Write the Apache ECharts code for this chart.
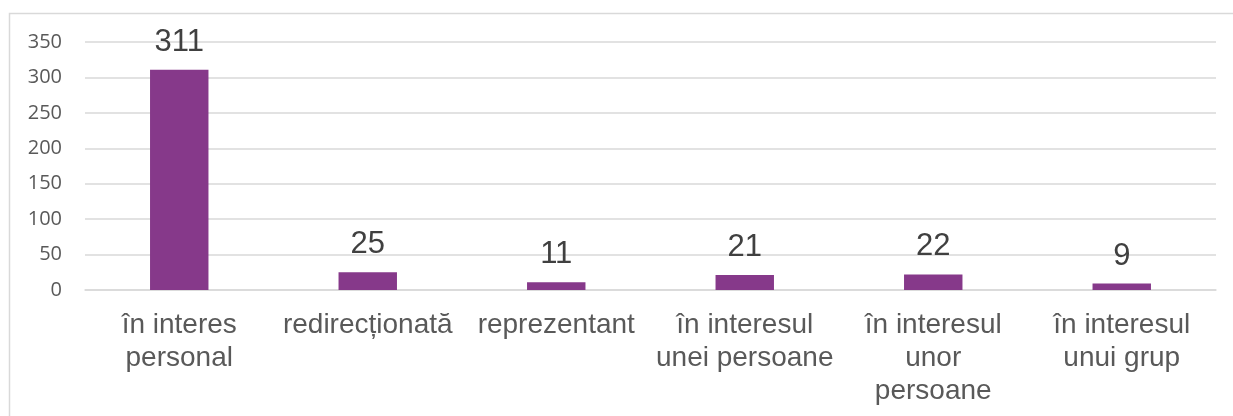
<!DOCTYPE html>
<html>
<head>
<meta charset="utf-8">
<script src="https://cdn.jsdelivr.net/npm/echarts@6/dist/echarts.min.js"></script>
<style>
  html, body { margin: 0; padding: 0; background: #fff; }
  #chart { width: 1233px; height: 416px; }
</style>
</head>
<body>
<div id="chart"></div>
<script>
// categories and values
var categories = [
  'în interes\npersonal',
  'redirecționată',
  'reprezentant',
  'în interesul\nunei persoane',
  'în interesul\nunor\npersoane',
  'în interesul\nunui grup'
];
var values = [311, 25, 11, 21, 22, 9];
var yTicks = { min: 0, max: 350, interval: 50 };

window.onload = function () {
  var chart = echarts.init(document.getElementById('chart'));

  var option = {
    animation: false,
    graphic: [
      {
        type: 'rect',
        shape: { x: 9.5, y: 13.5, width: 1240, height: 420 },
        style: { fill: 'none', stroke: '#d9d9d9', lineWidth: 1.5 },
        silent: true
      }
    ],
    grid: {
      left: 85,
      right: 17,
      top: 42,
      bottom: 126
    },
    xAxis: {
      type: 'category',
      data: categories,
      axisTick: { show: false },
      axisLine: { lineStyle: { color: '#d9d9d9', width: 1.5 } },
      axisLabel: {
        color: '#595959',
        fontFamily: 'Liberation Sans, Arial, sans-serif',
        fontSize: 28,
        lineHeight: 33,
        margin: 19,
        interval: 0
      }
    },
    yAxis: {
      type: 'value',
      min: yTicks.min,
      max: yTicks.max,
      interval: yTicks.interval,
      axisLine: { show: false },
      axisTick: { show: false },
      axisLabel: {
        color: '#595959',
        fontFamily: 'Open Sans, Liberation Sans, Arial, sans-serif',
        fontSize: 20,
        margin: 23
      },
      splitLine: { lineStyle: { color: '#d9d9d9', width: 1.5 } }
    },
    series: [
      {
        type: 'bar',
        data: values,
        barWidth: '31%',
        itemStyle: { color: '#86398a' },
        label: {
          show: true,
          position: 'top',
          distance: 12,
          color: '#404040',
          fontFamily: 'Liberation Sans, Arial, sans-serif',
          fontSize: 31
        }
      }
    ]
  };

  chart.setOption(option);
};
</script>
</body>
</html>
